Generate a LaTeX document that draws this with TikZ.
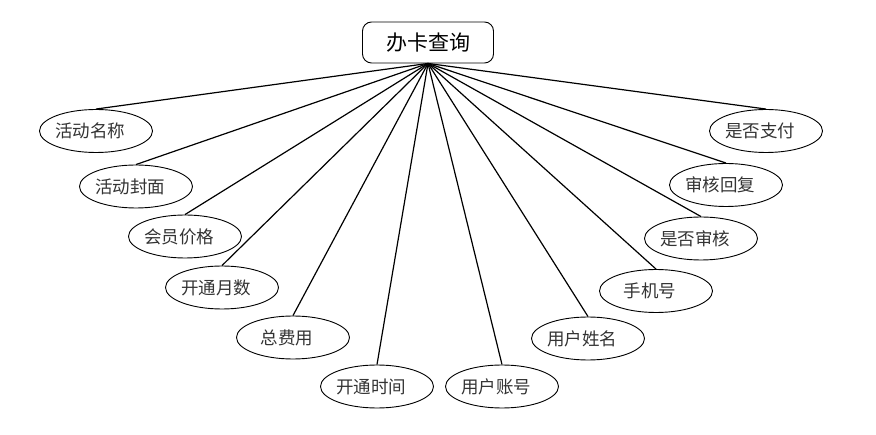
\documentclass[tikz,border=0pt]{standalone}
\usepackage{fontspec}
\usetikzlibrary{shapes.geometric}
\setmainfont{Noto Sans CJK SC}
\newfontfamily\cjk{Noto Sans CJK SC}
\begin{document}
\begin{tikzpicture}[x=1pt,y=-1pt,
  attr/.style={draw=black, line width=0.9pt, ellipse, minimum width=113pt, minimum height=43pt, inner sep=0pt,
    font=\cjk\fontsize{17.5}{20}\selectfont, text=black!80, execute at begin node=\hspace*{-12pt}},
  entity/.style={draw=black, line width=0.9pt, rounded corners=9pt, minimum width=131pt, minimum height=41pt, inner sep=0pt,
    fill=white, font=\cjk\fontsize{21}{24}\selectfont, text=black},
  link/.style={line width=1.2pt, draw=black}]
\useasboundingbox (0,0) rectangle (876,435);
\node[entity] (top) at (428,42.5) {办卡查询};
\node[attr] (a1) at (96,131) {活动名称};
\node[attr] (a2) at (136,186.5) {活动封面};
\node[attr] (a3) at (185,236.5) {会员价格};
\node[attr] (a4) at (222,287.5) {开通月数};
\node[attr] (a5) at (293,337.5) {总费用};
\node[attr] (a6) at (377,386.5) {开通时间};
\node[attr] (a7) at (502,386.5) {用户账号};
\node[attr] (a8) at (588,338.5) {用户姓名};
\node[attr] (a9) at (656,291) {手机号};
\node[attr] (a10) at (701,238.5) {是否审核};
\node[attr] (a11) at (726,185) {审核回复};
\node[attr] (a12) at (766,131) {是否支付};
\foreach \i in {1,...,12} {
  \draw[link] (top.south) -- (a\i.north);
}
\end{tikzpicture}
\end{document}
